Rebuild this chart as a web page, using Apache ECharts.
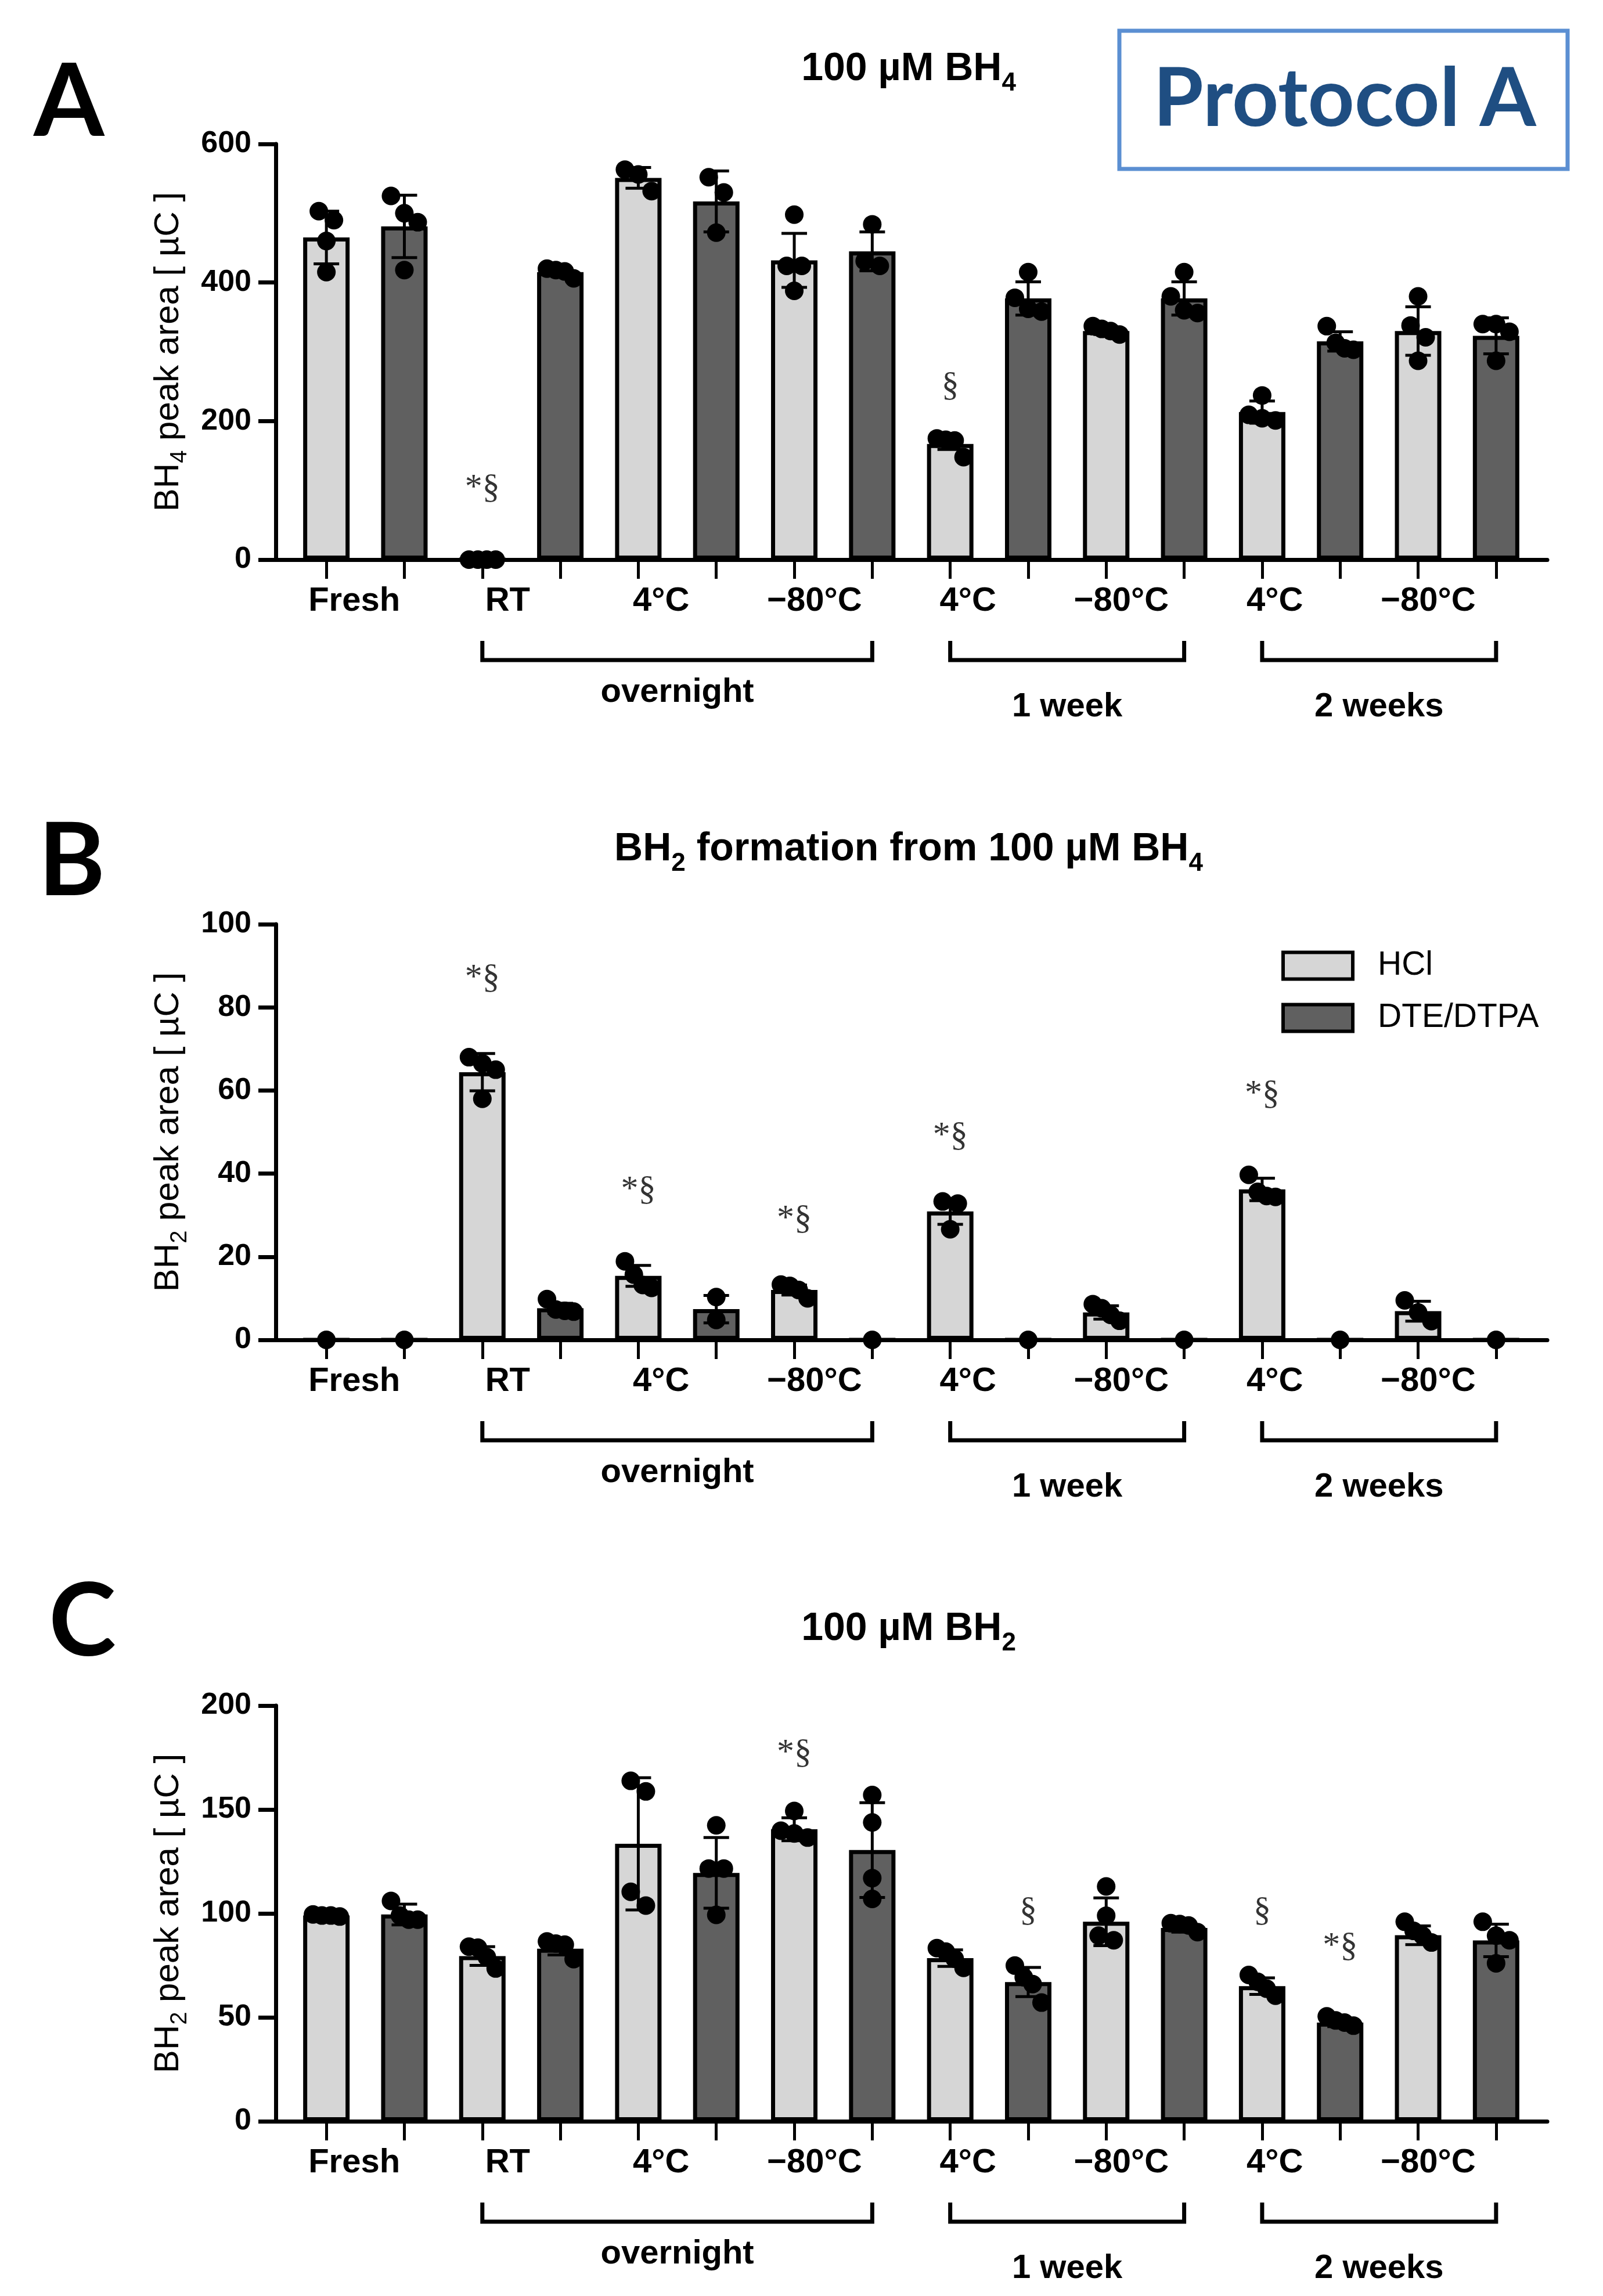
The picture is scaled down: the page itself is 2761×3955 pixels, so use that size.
<!DOCTYPE html>
<html>
<head>
<meta charset="utf-8">
<title>BH4 / BH2 stability - Protocol A</title>
<script src="https://cdn.jsdelivr.net/npm/echarts@6/dist/echarts.min.js"></script>
<style>
  html, body { margin: 0; padding: 0; background: #fff; }
  #chart { width: 100vw; height: 100vh; }
</style>
</head>
<body>
<div id="chart"></div>
<script>
//--------------------- Data ---------------------------//
const groups = ['Fresh', 'RT', '4°C', '−80°C', '4°C', '−80°C', '4°C', '−80°C'];
const seriesNames = ['HCl', 'DTE/DTPA'];
// bracket label, first bar slot, last bar slot
const brackets = [['overnight', 2, 7], ['1 week', 8, 11], ['2 weeks', 12, 15]];

// A: 100 µM BH4
const aTicks = [0, 200, 400, 600];
const aMeanHCl = [465, 0, 551, 432, 167, 330, 213, 330];
const aMeanDTE = [481, 415, 517, 445, 377, 377, 315, 323];
const aSdHCl = [38, 0, 15, 39, 8, 5, 16, 35];
const aSdDTE = [45, 5, 44, 28, 24, 24, 14, 26];
const aPtsHCl = [[490, 503, 460, 415], [0, 0, 0, 0], [563, 556, 532], [498, 424, 424, 388],
  [175, 173, 172, 148], [337, 333, 330, 325], [237, 209, 204, 201], [380, 338, 321, 287]];
const aPtsDTE = [[500, 525, 487, 418], [420, 418, 416, 406], [552, 530, 472], [484, 431, 424],
  [415, 378, 362, 358], [415, 380, 360, 356], [337, 313, 305, 303], [340, 340, 329, 287]];
const aMarks = [[2, 103, '*§'], [8, 250, '§']];

// B: BH2 formation from 100 µM BH4
const bTicks = [0, 20, 40, 60, 80, 100];
const bMeanHCl = [0, 64.4, 15.4, 12, 30.9, 6.6, 36.2, 6.9];
const bMeanDTE = [0, 7.6, 7.4, 0, 0, 0, 0, 0];
const bSdHCl = [0, 4.5, 2.5, 1.2, 3.1, 1.6, 2.7, 2.4];
const bSdDTE = [0, 1.2, 3.3, 0, 0, 0, 0, 0];
const bPtsHCl = [[0], [68, 66.5, 65, 58], [18.9, 15.7, 13.2, 12.5], [13.3, 13, 12, 10],
  [33.3, 32.8, 26.6], [8.6, 7.6, 6, 4.6], [39.7, 35.6, 34.6, 34.4], [9.5, 6.6, 4.5]];
const bPtsDTE = [[0], [9.8, 7.3, 7, 6.8], [10.3, 4.8], [0], [0], [0], [0], [0]];
const bMarks = [[2, 87, '*§'], [4, 36, '*§'], [6, 29, '*§'], [8, 49, '*§'], [12, 59, '*§']];

// C: 100 µM BH2
const cTicks = [0, 50, 100, 150, 200];
const cMeanHCl = [99, 79.5, 133.5, 140.5, 78.5, 96, 65, 89.5];
const cMeanDTE = [99.5, 83, 119.5, 130.5, 67, 93, 47.5, 87];
const cSdHCl = [1, 4.5, 31.8, 5.5, 4, 11.5, 4, 4.5];
const cSdDTE = [5, 3, 17, 22.8, 7, 2, 2, 7.8];
const cPtsHCl = [[99.5, 99, 99, 98.5], [84, 83.5, 79, 73.5], [163.8, 158.7, 110.4, 103.8], [149.3, 139.8, 138.5, 136.5],
  [83.3, 81.6, 78.2, 73.8], [113, 98.9, 89.3, 87.1], [70.4, 67.1, 63.8, 60.4], [96, 91.6, 89.3, 86]];
const cPtsDTE = [[106, 99, 97, 97], [86.5, 85.5, 85, 78], [142.4, 121.6, 121.6, 99.3], [157, 143.8, 117, 107],
  [74.9, 69.3, 66, 57.1], [95.3, 94.9, 94.2, 91], [50.5, 48.5, 47.5, 46], [96, 89.3, 87.1, 76]];
const cMarks = [[6, 177, '*§'], [9, 101, '§'], [12, 101, '§'], [13, 84, '*§']];

//--------------------- Layout & style ---------------------------//
const SANS = '"Liberation Sans", Arial, sans-serif';
const SERIF = '"Liberation Serif", "Times New Roman", serif';
const PANEL_H = 716;
const DOT = 32;      // dot diameter
const CAP = 44;      // error bar cap width
const BAR_W = 80;
const colors = ['#d6d6d6', '#606060'];
const bracketTextDrop = [229, 254, 254];

const panels = [
  { letter: 'A', letterPos: [58, 178], title: '100 µM BH{s|4}', titleY: 119, top: 248,
    ticks: aTicks, yName: 'BH{s|4} peak area [ µC ]',
    mean: [aMeanHCl, aMeanDTE], sd: [aSdHCl, aSdDTE], pts: [aPtsHCl, aPtsDTE], marks: aMarks },
  { letter: 'B', letterPos: [66, 1486], title: 'BH{s|2} formation from 100 µM BH{s|4}', titleY: 1463, top: 1592,
    ticks: bTicks, yName: 'BH{s|2} peak area [ µC ]',
    mean: [bMeanHCl, bMeanDTE], sd: [bSdHCl, bSdDTE], pts: [bPtsHCl, bPtsDTE], marks: bMarks },
  { letter: 'C', letterPos: [84, 2796], title: '100 µM BH{s|2}', titleY: 2806, top: 2938,
    ticks: cTicks, yName: 'BH{s|2} peak area [ µC ]',
    mean: [cMeanHCl, cMeanDTE], sd: [cSdHCl, cSdDTE], pts: [cPtsHCl, cPtsDTE], marks: cMarks }
];

// 16 bar slots: HCl / DTE per group
const slots = [];
groups.forEach((g, i) => seriesNames.forEach(s => slots.push(i + '-' + s)));

//--------------------- Functions ---------------------------//
// Spread overlapping dots sideways (GraphPad style scatter)
function dotOffsets(vals, pxPerUnit) {
  const order = vals.map((v, i) => i).sort((a, b) => vals[b] - vals[a]);
  const offs = new Array(vals.length).fill(0);
  let cluster = [order[0]];
  const flush = () => {
    const k = cluster.length;
    const step = k > 1 ? Math.min(26, 46 / (k - 1)) : 0;
    cluster.forEach((idx, j) => { offs[idx] = (j - (k - 1) / 2) * step; });
  };
  for (let n = 1; n < order.length; n++) {
    const prev = order[n - 1], cur = order[n];
    if ((vals[prev] - vals[cur]) * pxPerUnit < DOT) cluster.push(cur);
    else { flush(); cluster = [cur]; }
  }
  flush();
  return offs;
}

function errorBars(params, api) {
  const x = api.value(0), m = api.value(1), s = api.value(2);
  if (!s) return null;
  const hi = api.coord([x, m + s]);
  const lo = api.coord([x, Math.max(0, m - s)]);
  const st = { stroke: '#000', lineWidth: 5 };
  return {
    type: 'group',
    children: [
      { type: 'line', shape: { x1: hi[0], y1: hi[1], x2: lo[0], y2: lo[1] }, style: st },
      { type: 'line', shape: { x1: hi[0] - CAP / 2, y1: hi[1], x2: hi[0] + CAP / 2, y2: hi[1] }, style: st },
      { type: 'line', shape: { x1: lo[0] - CAP / 2, y1: lo[1], x2: lo[0] + CAP / 2, y2: lo[1] }, style: st }
    ]
  };
}

const subRich = (size, weight) => ({
  s: { fontSize: size, fontWeight: weight, fontFamily: SANS, color: '#000', verticalAlign: 'bottom', lineHeight: size }
});

//--------------------- Build option ---------------------------//
const grid = [], xAxis = [], yAxis = [], series = [];

panels.forEach((p) => {
  const g0 = grid.length;
  const yMax = p.ticks[p.ticks.length - 1];
  const pxPerUnit = PANEL_H / yMax;

  grid.push({ left: 495, right: 117, top: p.top, height: PANEL_H });   // bars
  grid.push({ left: 475, right: 96, top: p.top, height: PANEL_H });    // x axis line
  grid.push({ left: 478, right: 169, top: p.top, height: PANEL_H });   // group labels

  xAxis.push({
    gridIndex: g0, type: 'category', data: slots,
    axisLine: { show: false },
    axisTick: { show: true, alignWithLabel: true, interval: 0, length: 33, lineStyle: { color: '#000', width: 5 } },
    axisLabel: { show: false, interval: 0 },
    splitLine: { show: false }
  });
  xAxis.push({
    gridIndex: g0 + 1, type: 'value', min: 0, max: 1,
    axisLine: { show: true, lineStyle: { color: '#000', width: 7 } },
    axisTick: { show: false }, axisLabel: { show: false }, splitLine: { show: false }
  });
  xAxis.push({
    gridIndex: g0 + 2, type: 'category', data: groups,
    axisLine: { show: false }, axisTick: { show: false },
    axisLabel: { interval: 0, margin: 43, color: '#000', fontFamily: SANS, fontSize: 58, fontWeight: 'bold' }
  });

  yAxis.push({
    gridIndex: g0, type: 'value', min: 0, max: yMax, interval: p.ticks[1] - p.ticks[0], offset: 20,
    axisLine: { show: true, lineStyle: { color: '#000', width: 7 } },
    axisTick: { show: true, length: 30, lineStyle: { color: '#000', width: 7 } },
    axisLabel: { margin: 42, color: '#000', fontFamily: SANS, fontSize: 52, fontWeight: 'bold' },
    splitLine: { show: false },
    name: p.yName, nameLocation: 'middle', nameGap: 145,
    nameTextStyle: { color: '#000', fontFamily: SANS, fontSize: 60, fontWeight: 'normal', lineHeight: 80, rich: subRich(40, 'normal') }
  });
  yAxis.push({ gridIndex: g0 + 1, type: 'value', show: false, min: 0, max: 1 });
  yAxis.push({ gridIndex: g0 + 2, type: 'value', show: false, min: 0, max: 1 });

  const errData = [], dotData = [];
  seriesNames.forEach((name, k) => {
    series.push({
      type: 'bar', name: name, xAxisIndex: g0, yAxisIndex: g0,
      data: slots.map((_, s) => (s % 2 === k ? p.mean[k][(s - k) / 2] : '-')),
      barWidth: BAR_W, barGap: '-100%', z: 2,
      itemStyle: { color: colors[k], borderColor: '#000', borderWidth: 7 }
    });
    p.mean[k].forEach((m, gi) => {
      const slot = gi * 2 + k;
      errData.push([slot, m, p.sd[k][gi]]);
      const vals = p.pts[k][gi];
      const offs = dotOffsets(vals, pxPerUnit);
      vals.forEach((v, j) => dotData.push({ value: [slot, v], symbolOffset: [offs[j], 0] }));
    });
  });

  series.push({
    type: 'custom', xAxisIndex: g0, yAxisIndex: g0, z: 3,
    encode: { x: 0, y: 1 }, data: errData, renderItem: errorBars
  });
  series.push({
    type: 'scatter', xAxisIndex: g0, yAxisIndex: g0, z: 4,
    symbol: 'circle', symbolSize: DOT, itemStyle: { color: '#000', opacity: 1 },
    data: dotData
  });
  series.push({
    type: 'scatter', xAxisIndex: g0, yAxisIndex: g0, z: 5,
    symbolSize: 1, itemStyle: { color: 'rgba(0,0,0,0)' },
    label: { show: true, position: 'inside', formatter: '{b}', color: '#000', fontFamily: SERIF, fontSize: 60 },
    data: p.marks.map(m => ({ value: [m[0], m[1]], name: m[2] }))
  });
});

const option = {
  animation: false,
  backgroundColor: '#fff',
  grid: grid,
  xAxis: xAxis,
  yAxis: yAxis,
  series: series,
  legend: {
    data: seriesNames.map((n, k) => ({ name: n, itemStyle: { color: colors[k], borderColor: '#000', borderWidth: 6 } })),
    orient: 'vertical', left: 2207, top: 1635, padding: 0,
    itemWidth: 120, itemHeight: 46, itemGap: 33, icon: 'rect',
    selectedMode: false,
    textStyle: { color: '#000', fontFamily: SANS, fontSize: 57, lineHeight: 46, padding: [0, 0, 0, 38] }
  }
};

const chart = echarts.init(document.getElementById('chart'));
chart.setOption(option);

//--------------------- Annotations ---------------------------//
const graphic = [];
panels.forEach((p, pi) => {
  const xi = pi * 3;
  graphic.push({
    type: 'text', x: p.letterPos[0], y: p.letterPos[1],
    style: { text: p.letter, fill: '#000', font: 'bold 175px Lato, "Open Sans", sans-serif', align: 'left', verticalAlign: 'middle' }
  });
  graphic.push({
    type: 'text', x: 1565, y: p.titleY,
    style: {
      text: p.title, fill: '#000', fontFamily: SANS, fontSize: 68, fontWeight: 'bold', lineHeight: 94,
      align: 'center', verticalAlign: 'middle', rich: subRich(44, 'bold')
    }
  });
  const axisY = chart.convertToPixel({ yAxisIndex: xi }, 0);
  brackets.forEach((b, bi) => {
    const x1 = chart.convertToPixel({ xAxisIndex: xi }, b[1]);
    const x2 = chart.convertToPixel({ xAxisIndex: xi }, b[2]);
    graphic.push({
      type: 'polyline',
      shape: { points: [[x1, axisY + 140], [x1, axisY + 173], [x2, axisY + 173], [x2, axisY + 140]] },
      style: { stroke: '#000', lineWidth: 7, fill: null }
    });
    graphic.push({
      type: 'text', x: (x1 + x2) / 2, y: axisY + bracketTextDrop[bi],
      style: { text: b[0], fill: '#000', fontFamily: SANS, fontSize: 58, fontWeight: 'bold', align: 'center', verticalAlign: 'middle' }
    });
  });
});
graphic.push({
  type: 'rect', shape: { x: 1928, y: 53, width: 772, height: 238 },
  style: { fill: '#fff', stroke: '#5b8fd2', lineWidth: 7 }
});
graphic.push({
  type: 'text', x: 2316, y: 172,
  style: { text: 'Protocol A', fill: '#1f4e82', font: 'bold 140px Lato, "Open Sans", sans-serif', align: 'center', verticalAlign: 'middle' }
});
chart.setOption({ graphic: graphic });
</script>
</body>
</html>
